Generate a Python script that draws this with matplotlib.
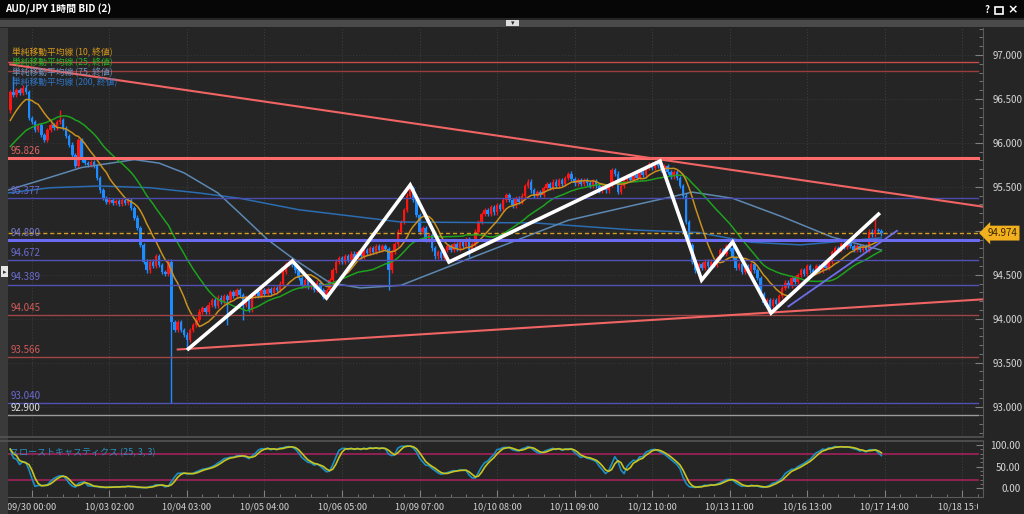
import numpy as np
import pandas as pd
import matplotlib
matplotlib.use("Agg")
import matplotlib.pyplot as plt
from matplotlib.patches import Rectangle
from matplotlib.lines import Line2D
from matplotlib.transforms import Bbox, TransformedBbox

plt.rcParams['font.family'] = ['Noto Sans CJK JP', 'DejaVu Sans']

# ---- data (hourly AUD/JPY bid) ----
first_bar = -7          # bar index of the first visible candle (0 = 09/30 00:00)
first_open = 96.37
closes = [
    96.58, 96.55, 96.60, 96.57, 96.63, 96.58, 96.28, 96.24, 96.15, 96.20,
    96.09, 96.03, 96.15, 96.20, 96.17, 96.24, 96.26, 96.17, 96.08, 95.98,
    95.86, 95.74, 96.03, 95.81, 95.77, 95.75, 95.78, 95.74, 95.60, 95.46,
    95.37, 95.33, 95.35, 95.32, 95.34, 95.31, 95.35, 95.32, 95.35, 95.26,
    95.15, 95.03, 94.84, 94.65, 94.55, 94.65, 94.60, 94.71, 94.61, 94.53,
    94.51, 94.65, 93.96, 93.87, 93.96, 93.87, 93.82, 93.76, 93.87, 93.93,
    93.99, 94.08, 94.12, 94.08, 94.16, 94.21, 94.15, 94.24, 94.19, 94.26,
    94.21, 94.30, 94.26, 94.33, 94.27, 94.16, 94.24, 94.10, 94.26, 94.30,
    94.26, 94.33, 94.28, 94.34, 94.29, 94.35, 94.33, 94.40, 94.53, 94.62,
    94.65, 94.61, 94.55, 94.46, 94.38, 94.44, 94.36, 94.38, 94.33, 94.41,
    94.33, 94.25, 94.33, 94.44, 94.55, 94.65, 94.69, 94.65, 94.71, 94.67,
    94.74, 94.69, 94.76, 94.71, 94.78, 94.75, 94.80, 94.76, 94.83, 94.78,
    94.83, 94.79, 94.55, 94.76, 94.85, 94.99, 95.10, 95.24, 95.40, 95.49,
    95.35, 95.18, 94.99, 95.03, 94.90, 94.95, 94.80, 94.71, 94.76, 94.69,
    94.78, 94.83, 94.78, 94.85, 94.80, 94.87, 94.83, 94.90, 94.78, 94.85,
    94.99, 95.10, 95.19, 95.24, 95.19, 95.27, 95.21, 95.29, 95.25, 95.35,
    95.41, 95.35, 95.29, 95.37, 95.33, 95.40, 95.51, 95.56, 95.46, 95.40,
    95.44, 95.41, 95.49, 95.53, 95.49, 95.56, 95.51, 95.58, 95.53, 95.60,
    95.65, 95.59, 95.54, 95.58, 95.53, 95.58, 95.54, 95.51, 95.56, 95.51,
    95.46, 95.51, 95.46, 95.52, 95.69, 95.65, 95.44, 95.51, 95.58, 95.62,
    95.58, 95.64, 95.60, 95.67, 95.64, 95.72, 95.76, 95.72, 95.78, 95.74,
    95.69, 95.74, 95.67, 95.62, 95.67, 95.60, 95.51, 95.40, 95.10, 94.84,
    94.65, 94.55, 94.62, 94.58, 94.65, 94.60, 94.65, 94.61, 94.69, 94.78,
    94.74, 94.83, 94.80, 94.69, 94.58, 94.62, 94.53, 94.60, 94.55, 94.62,
    94.55, 94.46, 94.28, 94.18, 94.21, 94.15, 94.21, 94.17, 94.26, 94.35,
    94.41, 94.37, 94.46, 94.42, 94.50, 94.55, 94.51, 94.60, 94.55, 94.53,
    94.60, 94.55, 94.62, 94.58, 94.65, 94.76, 94.80, 94.78, 94.85, 94.82,
    94.86, 94.83, 94.78, 94.83, 94.78, 94.83, 94.78, 94.99, 94.96, 95.01,
    95.00, 94.97,
]
# closes before the left edge (only feed the moving averages)
prior_closes = [95.60, 95.65, 95.70, 95.72, 95.75, 95.78, 95.80, 95.78,
                95.82, 95.85, 95.83, 95.80, 95.78, 95.82, 95.75,
                95.95, 96.05, 96.10, 96.20, 96.25, 96.30, 96.35, 96.40, 96.38]
# long wicks
high_spikes = {-6: 96.76, 9: 96.37, 122: 95.53, 173: 95.67, 187: 95.72, 272: 95.16}
low_spikes = {45: 93.04, 50: 93.66, 63: 93.93, 68: 93.99, 115: 94.33, 141: 94.70, 238: 94.07}
wick = 0.025

# 75 / 200 period averages
ma75_idx = [-8, 6, 16, 33, 41, 49, 60, 67, 76, 84, 96, 106, 119, 140, 173, 194, 213, 226, 242, 258, 274]
ma75_val = [95.46, 95.61, 95.72, 95.81, 95.77, 95.66, 95.43, 95.20, 94.90, 94.69, 94.41, 94.35,
            94.38, 94.67, 95.12, 95.29, 95.44, 95.37, 95.16, 94.93, 94.78]
ma200_idx = [-8, 6, 22, 38, 54, 67, 86, 119, 162, 194, 215, 232, 248, 274]
ma200_val = [95.43, 95.49, 95.51, 95.49, 95.43, 95.37, 95.24, 95.10, 95.09, 95.01, 94.98,
             94.87, 94.84, 94.92]

levels = [96.917, 96.815, 95.826, 95.377, 94.890, 94.672, 94.389, 94.045, 93.566, 93.040, 92.900]
level_colors = ['#c94a4a', '#9c3d3d', '#ff6b6b', '#4c4cae', '#6b6bf2', '#5252b4', '#5252b4',
                '#a04646', '#a04646', '#5252b4', '#9a9a9a']
level_widths = [1.0, 1.0, 2.2, 1.0, 2.2, 1.0, 1.0, 1.0, 1.0, 1.0, 1.0]
level_text = [None, None, '95.826', '95.377', '94.890', '94.672', '94.389', '94.045',
              '93.566', '93.040', '92.900']
level_text_colors = [None, None, '#e06464', '#6a6ad0', '#7a7ad0', '#6a6ad0', '#6a6ad0',
                     '#d05a5a', '#d05a5a', '#6a6ad0', '#dddddd']
last_price = 94.974

# hand drawn lines
zigzag_idx = [50, 84, 95, 122, 134.5, 202.6, 216, 226, 238.4, 273.5]
zigzag_px = [93.644, 94.657, 94.236, 95.521, 94.645, 95.794, 94.440, 94.873, 94.065, 95.203]
resist_idx, resist_px = [-7, 306.5], [96.893, 95.276]
support_idx, support_px = [47, 306.5], [93.65, 94.22]
channel_idx, channel_px = [244, 279], [94.14, 95.00]

tick_idx = list(range(0, 301, 25))
tick_labels = ['09/30 00:00', '10/03 02:00', '10/04 03:00', '10/05 04:00', '10/06 05:00',
               '10/09 07:00', '10/10 08:00', '10/11 09:00', '10/12 10:00', '10/13 11:00',
               '10/16 13:00', '10/17 14:00', '10/18 15:00']
price_ticks = [93.0, 93.5, 94.0, 94.5, 95.0, 95.5, 96.0, 96.5, 97.0]
# 95.000 sits under the last-price tag, so it is not printed
price_tick_labels = ['93.000', '93.500', '94.000', '94.500', '', '95.500', '96.000',
                     '96.500', '97.000']

# ---- derived series ----
idx = np.arange(first_bar, first_bar + len(closes))
c = np.array(closes)
o = np.array([first_open] + closes[:-1])
hi = np.maximum(o, c) + wick
lo = np.minimum(o, c) - wick
for k, v in high_spikes.items():
    hi[k - first_bar] = v
for k, v in low_spikes.items():
    lo[k - first_bar] = v

allc = pd.Series(prior_closes + closes)
n0 = len(prior_closes)
ma10 = allc.rolling(10).mean().values[n0:]
ma25 = allc.rolling(25).mean().values[n0:]

hh = pd.Series(hi).rolling(25, min_periods=1).max()
ll = pd.Series(lo).rolling(25, min_periods=1).min()
fast_k = 100 * (pd.Series(c) - ll) / (hh - ll)
slow_k = fast_k.rolling(3, min_periods=1).mean()
slow_d = slow_k.rolling(3, min_periods=1).mean()

# ---- figure ----
W, H = 1024, 514
BG = '#252525'
fig = plt.figure(figsize=(W / 100, H / 100), dpi=100, facecolor=BG)

def box(x0, y0, x1, y1):
    return [x0 / W, 1 - y1 / H, (x1 - x0) / W, (y1 - y0) / H]

ax = fig.add_axes(box(8, 28, 983, 436), facecolor=BG)
axs = fig.add_axes(box(8, 441, 983, 497), facecolor=BG, sharex=ax)

xlo, xhi = -7.74, 306.77
ax.set_xlim(xlo, xhi)
ax.set_ylim(92.666, 97.307)
axs.set_ylim(-20, 109.2)

for a in (ax, axs):
    for s in ('top', 'left', 'bottom'):
        a.spines[s].set_visible(False)
    a.spines['right'].set_color('#5a5a5a')
    a.yaxis.tick_right()
    a.set_xticks(tick_idx)
    a.set_xticks(range(0, 306, 5), minor=True)
    for t in tick_idx:
        a.axvline(t, color='#3c3c3c', lw=0.8, ls=':', zorder=0)
axs.spines['bottom'].set_visible(True)
axs.spines['bottom'].set_color('#5a5a5a')
ax.tick_params(axis='x', which='both', length=0, labelbottom=False)
axs.tick_params(axis='x', which='major', direction='in', length=5, color='#808080',
                labelsize=6.6, labelcolor='#d0d0d0', pad=4)
axs.tick_params(axis='x', which='minor', direction='in', length=2.5, color='#808080')
axs.set_xticklabels(tick_labels)

ax.set_yticks(price_ticks)
ax.set_yticks(np.arange(92.7, 97.31, 0.1), minor=True)
ax.set_yticklabels(price_tick_labels)
ax.tick_params(axis='y', which='major', direction='in', length=6, color='#808080',
               labelsize=7, labelcolor='#d6d6d6', pad=7)
ax.tick_params(axis='y', which='minor', direction='in', length=3, color='#808080')
for v in price_ticks:
    ax.axhline(v, color='#363636', lw=0.8, ls=':', zorder=0)

axs.set_yticks([0, 50, 100])
axs.set_yticks(range(0, 101, 10), minor=True)
axs.set_yticklabels(['0.00', '50.00', '100.00'])
axs.tick_params(axis='y', which='major', direction='in', length=5, color='#808080',
                labelsize=7, labelcolor='#d6d6d6', pad=27)
axs.tick_params(axis='y', which='minor', direction='in', length=2.5, color='#808080')
for lbl in axs.get_yticklabels():
    lbl.set_horizontalalignment('right')

# horizontal levels
xm = (978 - 8) / (983 - 8)
for lv, col, lw, txt, tcol in zip(levels, level_colors, level_widths, level_text, level_text_colors):
    ax.axhline(lv, color=col, lw=lw, xmax=xm, zorder=3.5)
    if txt:
        ax.annotate(txt, xy=(xlo + 0.7, lv), xytext=(0, 1.5), textcoords='offset points',
                    color=tcol, fontsize=7, va='bottom', ha='left', zorder=6)
ax.axhline(last_price, color='#d49d22', lw=1.0, ls=(0, (3, 2)), xmax=xm, zorder=3.6)

# moving averages
ax.plot(ma200_idx, ma200_val, color='#2b6cb2', lw=1.1, zorder=3.2)
ax.plot(ma75_idx, ma75_val, color='#5d88b2', lw=1.1, zorder=3.2)
ax.plot(idx, ma25, color='#1ea21e', lw=1.1, zorder=3.3)
ax.plot(idx, ma10, color='#c8901e', lw=1.1, zorder=3.3)

# candles
up = c >= o
cols = np.where(up, '#ff1414', '#1e8cff')
ax.vlines(idx, lo, hi, colors=cols, lw=1.0, zorder=3)
ax.bar(idx, np.maximum(np.abs(c - o), 0.008), bottom=np.minimum(o, c), width=0.8,
       color=cols, edgecolor='none', zorder=3)

# trend lines and drawings
ax.plot(resist_idx, resist_px, color='#f06464', lw=1.5, zorder=4)
ax.plot(support_idx, support_px, color='#f06464', lw=1.5, zorder=4)
ax.plot(channel_idx, channel_px, color='#6e6eea', lw=1.3, zorder=4)
ax.plot(zigzag_idx, zigzag_px, color='white', lw=2.6, zorder=5,
        solid_joinstyle='miter', solid_capstyle='butt')

# last price tag
ax.annotate('%.3f' % last_price, xy=(1.0, last_price), xycoords=('axes fraction', 'data'),
            xytext=(3, 0), textcoords='offset points', fontsize=7, color='#3a2800',
            va='center', ha='left', annotation_clip=False, zorder=7,
            bbox=dict(boxstyle='larrow,pad=0.25', fc='#f2b01e', ec='none'))

# stochastics
axs.axhline(80, color='#a3215c', lw=1.2, xmax=xm)
axs.axhline(20, color='#a3215c', lw=1.2, xmax=xm)
axs.plot(idx, slow_k, color='#1b8fc6', lw=1.2)
axs.plot(idx, slow_d, color='#c9c51e', lw=1.2)

# clip the last date label at the plot edge like the terminal does
clip = TransformedBbox(Bbox([[0, 0], [978 / W, 1]]), fig.transFigure)
lbls = axs.get_xticklabels()
lbls[-1].set_clip_box(clip)
lbls[-1].set_clip_on(True)

# ---- window chrome ----
def fx(x):
    return x / W

def fy(y):
    return 1 - y / H

fig.patches.append(Rectangle((0, fy(18)), 1, 18 / H, transform=fig.transFigure,
                             fc='#060606', ec='none', zorder=0))
fig.patches.append(Rectangle((0, fy(27)), 1, 7 / H, transform=fig.transFigure,
                             fc='#4a4a4a', ec='none', zorder=0))
fig.patches.append(Rectangle((0, 0), fx(8), fy(28), transform=fig.transFigure,
                             fc='#3a3a3a', ec='none', zorder=0))
fig.patches.append(Rectangle((fx(1), fy(277)), fx(7), 11 / H, transform=fig.transFigure,
                             fc='#e6e6e6', ec='none', zorder=1))
fig.patches.append(Rectangle((fx(506), fy(26)), fx(13), 6 / H, transform=fig.transFigure,
                             fc='#dddddd', ec='none', zorder=1))
fig.text(fx(512.5), fy(23.2), '▾', fontsize=5, color='#222222', ha='center', va='center',
         family=['DejaVu Sans'])
fig.text(fx(4.5), fy(272), '▸', fontsize=5, color='#333333', ha='center', va='center',
         family=['DejaVu Sans'])
fig.text(fx(5), fy(9), 'AUD/JPY 1時間 BID (2)', color='white', fontsize=7.2,
         weight='bold', va='center', ha='left')
fig.text(fx(987), fy(10), '?', color='white', fontsize=7, weight='bold', va='center', ha='center')
fig.patches.append(Rectangle((fx(995), fy(13.5)), fx(8), 7 / H, transform=fig.transFigure,
                             fc='none', ec='white', lw=1.2, zorder=1))
fig.text(fx(1013), fy(10), '×', color='white', fontsize=9, weight='bold', va='center',
         ha='center', family=['DejaVu Sans'])

for yy in (437, 441):
    fig.add_artist(Line2D([fx(0), fx(983)], [fy(yy), fy(yy)], color='#555555', lw=1.2))

# legends
ma_names = ['単純移動平均線 (10, 終値)', '単純移動平均線 (25, 終値)',
            '単純移動平均線 (75, 終値)', '単純移動平均線 (200, 終値)']
ma_cols = ['#d89a1c', '#24b424', '#6c94c0', '#2f74c4']
for k, (name, col) in enumerate(zip(ma_names, ma_cols)):
    fig.text(fx(12), fy(52.7 + 10 * k), name, color=col, fontsize=6.3, va='center', ha='left')
fig.text(fx(10), fy(452.7), 'スローストキャスティクス (25, 3, 3)', color='#2b8fc0',
         fontsize=6.5, va='center', ha='left')

fig.savefig('out.png', dpi=100, facecolor=BG)
